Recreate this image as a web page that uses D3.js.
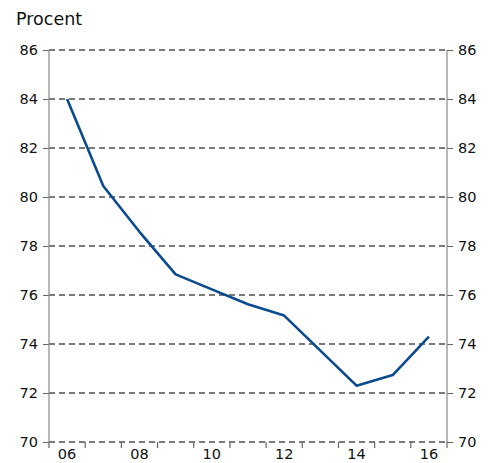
<!DOCTYPE html>
<html><head><meta charset="utf-8">
<script src="https://cdn.jsdelivr.net/npm/d3@7"></script>
<style>body{margin:0;background:#fff}svg{display:block}text{font-family:"DejaVu Sans",Verdana,sans-serif;fill:#111}</style>
</head><body><svg id="c" width="491" height="463"></svg>
<script>
const years = ["2006","2007","2008","2009","2010","2011","2012","2013","2014","2015","2016"];
const tickLabels = ["06","08","10","12","14","16"];
const values = [84.0,80.45,78.58,76.84,76.23,75.62,75.16,73.73,72.30,72.73,74.30];
const yTicks = [70,72,74,76,78,80,82,84,86];
const unitLabel = "Procent";

const svg = d3.select("#c");
const L = 49, R = 447, T = 50, B = 442;
const x = d3.scaleBand().domain(years).range([L, R]);
const y = d3.scaleLinear().domain([70, 86]).range([B, T]);

// gridlines
svg.append("g").selectAll("line").data(yTicks).join("line")
  .attr("x1", L).attr("x2", R)
  .attr("y1", d => y(d)).attr("y2", d => y(d))
  .attr("stroke", "#7a7a7a").attr("stroke-width", 1.5)
  .attr("stroke-dasharray", "6,4").attr("shape-rendering","crispEdges");

// left axis
const la = svg.append("g").attr("transform", `translate(${L},0)`)
  .call(d3.axisLeft(y).tickValues(yTicks).tickSize(6).tickPadding(5).tickFormat(d3.format("d")));
// right axis
const ra = svg.append("g").attr("transform", `translate(${R},0)`)
  .call(d3.axisRight(y).tickValues(yTicks).tickSize(6).tickPadding(5).tickFormat(d3.format("d")));
[la, ra].forEach(a => {
  a.select(".domain").remove();
  a.selectAll("line").attr("stroke", "#666");
  a.selectAll("text").style("font-size", "14.5px").attr("fill", "#111")
    .style("font-family", '"DejaVu Sans",Verdana,sans-serif');
});
svg.append("line").attr("x1", L).attr("x2", L).attr("y1", T).attr("y2", B).attr("stroke", "#888").attr("stroke-width",1.2);
svg.append("line").attr("x1", R).attr("x2", R).attr("y1", T).attr("y2", B).attr("stroke", "#888").attr("stroke-width",1.2);

// bottom ticks at band boundaries
const bounds = years.map(d => x(d)).concat([R]);
svg.append("g").selectAll("line").data(bounds).join("line")
  .attr("x1", d => d).attr("x2", d => d).attr("y1", B).attr("y2", B + 6)
  .attr("stroke", "#666").attr("stroke-width", 1.2);

// x labels
const labelYears = years.filter(d => tickLabels.includes(d.slice(2)));
svg.append("g").selectAll("text").data(labelYears).join("text")
  .attr("x", d => x(d) + x.bandwidth() / 2).attr("y", B + 17)
  .attr("text-anchor", "middle").style("font-size", "14.5px")
  .text(d => d.slice(2));

// line
svg.append("path").datum(values)
  .attr("fill", "none").attr("stroke", "#0a4a8e").attr("stroke-width", 2.6)
  .attr("stroke-linejoin", "round")
  .attr("d", d3.line().x((d, i) => x(years[i]) + x.bandwidth() / 2).y(d => y(d)));

// unit label
svg.append("text").attr("x", 16).attr("y", 25).style("font-size", "17.5px").text(unitLabel);
</script></body></html>
